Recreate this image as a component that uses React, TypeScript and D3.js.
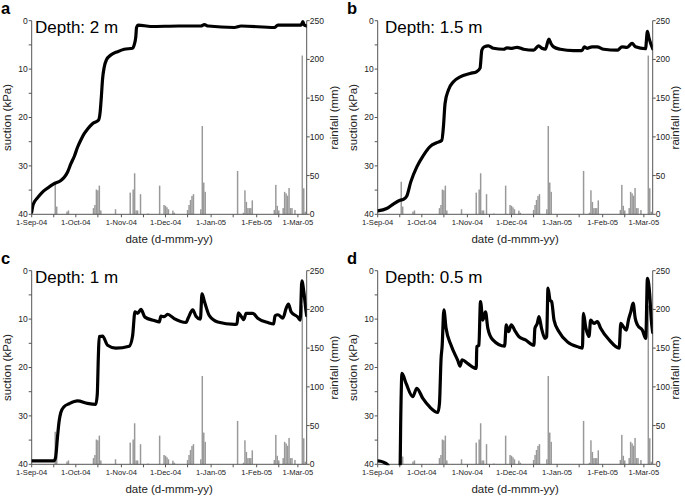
import React from "react";
import * as d3 from "d3";

// ---------- data ----------
const startDate = "2004-09-01";
const endDate = "2005-03-07";
const monthLabels = ["2004-09-01", "2004-10-01", "2004-11-01", "2004-12-01", "2005-01-01", "2005-02-01", "2005-03-01"];
const suctionTicks = [0, 10, 20, 30, 40];
const rainTicks = [0, 50, 100, 150, 200, 250];

const rainDates = [
  "2004-09-17", "2004-09-18", "2004-09-25", "2004-09-26",
  "2004-10-13", "2004-10-14", "2004-10-15", "2004-10-16", "2004-10-17", "2004-10-18", "2004-10-28",
  "2004-11-07", "2004-11-09", "2004-11-10", "2004-11-11", "2004-11-12", "2004-11-14", "2004-11-19", "2004-11-27", "2004-11-30",
  "2004-12-01", "2004-12-02", "2004-12-03", "2004-12-06", "2004-12-07",
  "2004-12-16", "2004-12-17", "2004-12-18", "2004-12-19", "2004-12-20",
  "2004-12-25", "2004-12-26", "2004-12-27", "2004-12-28",
  "2005-01-19", "2005-01-23", "2005-01-24", "2005-01-25", "2005-01-26", "2005-01-27", "2005-01-28", "2005-01-29",
  "2005-02-13", "2005-02-14", "2005-02-15", "2005-02-16",
  "2005-02-19", "2005-02-20", "2005-02-21", "2005-02-22", "2005-02-23", "2005-02-24", "2005-02-25", "2005-02-27",
  "2005-03-04", "2005-03-05", "2005-03-06",
];
const rainMm = [
  42, 10, 3.5, 5,
  8, 12, 32, 31, 37, 5, 6.5,
  28, 32, 53, 5, 5, 26, 1, 37, 12,
  11, 9, 6.5, 4.7, 2,
  5.6, 12, 18.5, 23.7, 26,
  6.5, 114, 41, 29,
  56, 2, 31, 16, 8, 8, 8, 18,
  5.6, 38, 11, 5,
  8, 29, 27, 24, 34, 8, 8, 5.6,
  205, 33.6, 3.4,
];

// days since 1-Sep-04, suction (kPa)
const aDays = [0, 1, 3.9, 7, 10.7, 15, 19.8, 22, 24.5, 26.6, 29, 31.1, 33.5, 35.6, 38, 41.3, 45.5, 46.5, 47.3, 48.2, 49.3, 50.8, 53.8, 58.4, 62.9, 68.6, 69.7, 70.8, 71.3, 72.5, 81, 100, 115, 117.4, 120, 137.8, 142.4, 165, 167.4, 183.2, 184.4, 185.3, 187];
const aSuction = [39.6, 38, 36.6, 35.5, 34.6, 33.7, 33, 32.4, 31.2, 29.6, 28, 26.2, 24.6, 23.4, 22.4, 21.3, 20.5, 19, 16, 12, 9.6, 8.1, 7.1, 6.4, 5.9, 5.7, 5, 3.3, 1.4, 0.9, 1.2, 1.1, 1.1, 0.8, 1.1, 1.4, 1.1, 1.4, 0.9, 0.9, 0.2, 0.9, 1.1];

const bDays = [0, 6.1, 10.6, 15.2, 17.4, 19.8, 22.5, 26.6, 31.1, 35.6, 40.2, 43.6, 44.7, 45.8, 48.1, 51.5, 56.1, 62.9, 67.4, 69.6, 70.8, 72.4, 75.3, 78.7, 85.6, 87.9, 91.3, 94.7, 99.2, 106, 109.4, 111.7, 114, 116.4, 117.8, 119.6, 124.2, 133.2, 138.9, 140.5, 142.3, 145.8, 149.2, 153.7, 162.8, 166.2, 169.6, 173, 175.3, 182.1, 183.4, 184.5, 187];
const bSuction = [39.3, 38.8, 37.9, 37.1, 36.9, 36.2, 33.3, 30.2, 27.8, 26, 25.2, 24.7, 21.9, 17.1, 14.3, 12.6, 11.6, 10.9, 10.5, 9.8, 6.1, 5.4, 5.2, 5.7, 5.9, 5.6, 5.7, 5.5, 5.9, 6.1, 5.2, 5.7, 5.9, 3.8, 4.7, 5.4, 5.9, 6.2, 6.2, 5.4, 5.7, 5.4, 5.4, 5.9, 6.1, 5.4, 5.5, 4.7, 5.4, 5.8, 2.2, 3.6, 5.8];

const cDays = [0, 15.2, 16.3, 17.5, 18.6, 19.8, 22, 25.4, 31.1, 37.9, 43.6, 44.6, 45.3, 45.9, 48.2, 51.6, 57.2, 66.3, 68.6, 70.2, 72, 74.3, 77, 83.3, 86.7, 87.9, 90.1, 92.4, 96.9, 104.9, 106.5, 109.5, 111.7, 114.7, 115.8, 117.4, 120.8, 126.5, 137.8, 139.6, 140.5, 142.4, 144.2, 145.8, 148, 150.3, 153.7, 160.6, 164.5, 165.5, 167.4, 170.8, 173, 174.6, 176.4, 181, 182.6, 183.7, 185.1, 186.6, 187];
const cSuction = [39.3, 39.3, 38.5, 34.5, 31.2, 29.3, 28.1, 27.5, 26.9, 27.4, 27.6, 25.5, 18, 13.6, 13.5, 15.4, 16, 15.6, 13.5, 8.5, 8.8, 8, 9.6, 10.3, 10.6, 9.4, 9.5, 9, 9.9, 10.7, 9.7, 8.1, 9.4, 10, 4.8, 6.3, 9.3, 10.6, 11.1, 11, 8.7, 9.4, 10.1, 8.8, 8.8, 8.8, 9.8, 10.7, 11, 9.3, 9.1, 9.8, 7.8, 6.9, 8.5, 9.6, 10.2, 2.1, 4.5, 8.5, 9.3];

const dDays = [0, 3.4, 6.8, 9, 14, 15.2, 15.7, 16.5, 19.3, 23.8, 26.6, 30.7, 35.2, 40.9, 42, 43.1, 43.8, 45, 46.5, 49.9, 54.5, 56, 57.4, 61.3, 67, 67.4, 68.8, 69.9, 71.5, 73.3, 74.9, 78.3, 86.3, 87.4, 89, 90.8, 93.7, 96, 100.5, 106.2, 106.9, 108.5, 109.7, 111.4, 113.8, 114.9, 115.8, 117.2, 118.3, 119.9, 123.3, 129, 136.9, 139.2, 139.9, 141.4, 143.7, 144.8, 147.1, 149.4, 151.6, 157.4, 164.2, 165.3, 167.1, 169.1, 170.5, 172.1, 173.7, 175.1, 176.6, 180, 182.3, 183.4, 185, 186, 187];
const dSuction = [39.3, 39.5, 40.1, 41.5, 41.5, 40.5, 30, 21.2, 23.3, 26, 24.3, 26.4, 28.1, 29.3, 27.4, 18.1, 15.7, 8.1, 11.9, 15.4, 18.6, 19.7, 18.4, 19.2, 20.2, 15.7, 15.4, 6.4, 10.2, 8.5, 11.9, 14.3, 15.6, 11.2, 12.6, 11.2, 12.6, 13.6, 14.3, 15.4, 11.9, 10.9, 9.5, 11.9, 14, 13.6, 3.6, 6.1, 6.4, 10.2, 12.6, 14.7, 15.8, 16, 8.8, 11.6, 13.6, 10.2, 10.9, 10.5, 11.9, 14.3, 16, 10.9, 11.6, 12.3, 10.2, 8.5, 6.7, 9.8, 11.2, 12.3, 14, 1.6, 5, 10, 12.8];

const panelKeys = ["a", "b", "c", "d"];
const panelDepths = ["Depth: 2 m", "Depth: 1.5 m", "Depth: 1 m", "Depth: 0.5 m"];
const panelDays = [aDays, bDays, cDays, dDays];
const panelSuction = [aSuction, bSuction, cSuction, dSuction];

// ---------- layout ----------
const W = 685;
const H = 497;
const ORIGINS = [[0, 0], [346, 0], [0, 250], [346, 250]];
const DEPTH_X = [35, 39, 35, 39];
const RAIN_TITLE_X = [338, 333, 338, 333];
const PL = 31.7, PR = 306.7, PT = 20.7, PB = 214.3;
const FONT = "'Liberation Sans', Arial, Helvetica, sans-serif";

const parse = d3.timeParse("%Y-%m-%d");
const fmt = d3.timeFormat("%-d-%b-%y");
const t0 = parse(startDate) as Date;
const t1 = parse(endDate) as Date;
const dayToDate = (d: number) => new Date(t0.getTime() + d * 86400000);

const x = d3.scaleTime().domain([t0, t1]).range([PL, PR]);
const yS = d3.scaleLinear().domain([0, 40]).range([PT, PB]);
const yR = d3.scaleLinear().domain([0, 250]).range([PB, PT]);

const months = monthLabels.map((s) => parse(s) as Date);
const minorDates = months.map((m) => new Date(m.getFullYear(), m.getMonth(), 16)).filter((dd) => dd < t1);
const suctionMinor = d3.range(0, 41, 5);
const dayW = x(dayToDate(1)) - x(dayToDate(0));

const line = d3
  .line<[number, number]>()
  .x((p) => x(dayToDate(p[0])))
  .y((p) => yS(p[1]))
  .curve(d3.curveMonotoneX);

function Panel({ i }: { i: number }) {
  const [ox, oy] = ORIGINS[i];
  const pts: [number, number][] = panelDays[i].map((d, k) => [d, panelSuction[i][k]]);
  const clipId = `clip-${panelKeys[i]}`;
  const axisCol = "#555";
  const txtCol = "#222";
  return (
    <g transform={`translate(${ox},${oy})`}>
      <defs>
        <clipPath id={clipId}>
          <rect x={PL} y={PT - 6} width={PR - PL} height={PB - PT + 7} />
        </clipPath>
      </defs>
      {/* rainfall bars */}
      {rainDates.map((s, k) => {
        const cx = x(parse(s) as Date);
        const top = yR(rainMm[k]);
        const bw = Math.max(1, dayW);
        return <rect key={k} x={cx - bw / 2} y={top} width={bw} height={PB - top} fill="#999" />;
      })}
      {/* axes */}
      <line x1={PL} x2={PL} y1={PT} y2={PB} stroke={axisCol} strokeWidth={1} />
      <line x1={PR} x2={PR} y1={PT} y2={PB} stroke={axisCol} strokeWidth={1} />
      <line x1={PL} x2={PR} y1={PB} y2={PB} stroke={axisCol} strokeWidth={1} />
      {suctionMinor.map((v) => (
        <line key={`sm${v}`} x1={PL - 3} x2={PL} y1={yS(v)} y2={yS(v)} stroke={axisCol} strokeWidth={1} />
      ))}
      {suctionTicks.map((v) => (
        <text key={`st${v}`} x={PL - 4} y={yS(v)} dy="0.35em" textAnchor="end" fontSize={8.5} fill={txtCol} fontFamily={FONT}>
          {v}
        </text>
      ))}
      {rainTicks.map((v) => (
        <g key={`rt${v}`}>
          <line x1={PR} x2={PR + 3} y1={yR(v)} y2={yR(v)} stroke={axisCol} strokeWidth={1} />
          <text x={PR + 3} y={yR(v)} dy="0.35em" textAnchor="start" fontSize={8.5} fill={txtCol} fontFamily={FONT}>
            {v}
          </text>
        </g>
      ))}
      {months.concat(minorDates).map((m, k) => (
        <line key={`xt${k}`} x1={x(m)} x2={x(m)} y1={PB} y2={PB + 3} stroke={axisCol} strokeWidth={1} />
      ))}
      {months.map((m, k) => (
        <text key={`xl${k}`} x={x(m)} y={PB + 10.5} textAnchor="middle" fontSize={7.6} fill={txtCol} fontFamily={FONT}>
          {fmt(m)}
        </text>
      ))}
      {/* suction line */}
      <g clipPath={`url(#${clipId})`}>
        <path d={line(pts) || ""} fill="none" stroke="#000" strokeWidth={3.2} strokeLinejoin="round" strokeLinecap="round" />
      </g>
      {/* titles */}
      <text x={1} y={14} fontSize={16.5} fontWeight="bold" fill="#000" fontFamily={FONT}>
        {panelKeys[i]}
      </text>
      <text x={DEPTH_X[i]} y={33.3} fontSize={17} fill="#000" fontFamily={FONT}>
        {panelDepths[i]}
      </text>
      <text x={(PL + PR) / 2} y={PB + 28.5} textAnchor="middle" fontSize={11.5} fill={txtCol} fontFamily={FONT}>
        date (d-mmm-yy)
      </text>
      <text transform={`translate(11,${(PT + PB) / 2}) rotate(-90)`} textAnchor="middle" fontSize={11.5} fill={txtCol} fontFamily={FONT}>
        suction (kPa)
      </text>
      <text transform={`translate(${RAIN_TITLE_X[i]},${(PT + PB) / 2}) rotate(-90)`} textAnchor="middle" fontSize={11.5} fill={txtCol} fontFamily={FONT}>
        rainfall (mm)
      </text>
    </g>
  );
}

export default function App() {
  return (
    <svg width={W} height={H} style={{ position: "absolute", left: 0, top: 0, background: "#fff" }}>
      <rect width={W} height={H} fill="#fff" />
      {[0, 1, 2, 3].map((i) => (
        <Panel key={i} i={i} />
      ))}
    </svg>
  );
}
